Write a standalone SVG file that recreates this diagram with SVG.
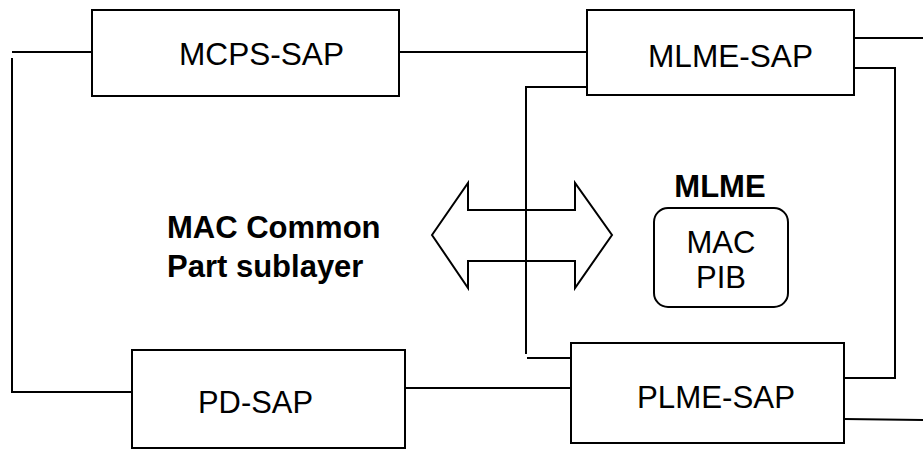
<svg xmlns="http://www.w3.org/2000/svg" width="923" height="449" viewBox="0 0 923 449">
  <style>
    .box { fill: #ffffff; stroke: #000000; stroke-width: 2; }
    .ln { fill: none; stroke: #000000; stroke-width: 2; }
    .t { font-family: "Liberation Sans", Arial, sans-serif; font-size: 31px; fill: #000000; }
    .s { font-family: "Liberation Sans", Arial, sans-serif; font-size: 32px; fill: #000000; }
    .b { font-family: "Liberation Sans", Arial, sans-serif; font-size: 31px; font-weight: bold; fill: #000000; }
  </style>
  <rect width="923" height="449" fill="#ffffff"/>
  <g id="connectors">
    <line class="ln" x1="12" y1="52" x2="92" y2="52"/>
    <polyline class="ln" points="12,58 12,392 132,392"/>
    <line class="ln" x1="399" y1="52" x2="587" y2="52"/>
    <line class="ln" x1="405" y1="388" x2="571" y2="388"/>
    <polyline class="ln" points="587,87 526,87 526,354"/>
    <line class="ln" x1="527" y1="358" x2="571" y2="358"/>
    <polyline class="ln" points="854,68 895,68 895,378 844,378"/>
    <line class="ln" x1="854" y1="38" x2="923" y2="38"/>
    <line class="ln" x1="844" y1="419" x2="923" y2="420"/>
  </g>
  <g id="mcps-sap">
    <rect class="box" x="92" y="10" width="307" height="86"/>
    <text class="s" x="179" y="65" textLength="165" lengthAdjust="spacingAndGlyphs">MCPS-SAP</text>
  </g>
  <g id="mlme-sap">
    <rect class="box" x="587" y="10" width="267" height="85"/>
    <text class="s" x="648" y="67" textLength="165" lengthAdjust="spacingAndGlyphs">MLME-SAP</text>
  </g>
  <g id="pd-sap">
    <rect class="box" x="132" y="350" width="273" height="98"/>
    <text class="s" x="198" y="413" textLength="115" lengthAdjust="spacingAndGlyphs">PD-SAP</text>
  </g>
  <g id="plme-sap">
    <rect class="box" x="571" y="343" width="273" height="100"/>
    <text class="s" x="637" y="408" textLength="158" lengthAdjust="spacingAndGlyphs">PLME-SAP</text>
  </g>
  <g id="mac-common-part">
    <text class="b" x="167" y="238">MAC Common</text>
    <text class="b" x="167" y="277">Part sublayer</text>
  </g>
  <g id="double-arrow">
    <polygon class="ln" points="432,235 468,183 468,210 575,210 575,183 612,235 575,288 575,261 468,261 468,288"/>
  </g>
  <g id="mlme">
    <text class="b" x="720" y="197" text-anchor="middle">MLME</text>
    <rect class="box" x="654" y="208" width="134" height="99" rx="14" ry="14"/>
    <text class="t" x="721" y="253" text-anchor="middle">MAC</text>
    <text class="t" x="721" y="288" text-anchor="middle">PIB</text>
  </g>
</svg>
